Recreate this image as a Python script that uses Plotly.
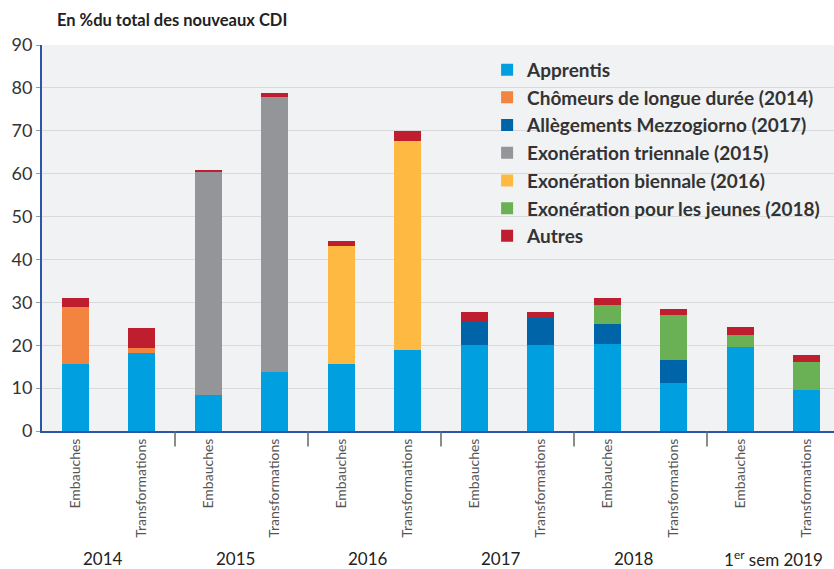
import plotly.graph_objects as go

# Categories
types = ["Embauches", "Transformations"] * 6
periods = ["2014", "2015", "2016", "2017", "2018", "1<sup>er</sup> sem 2019"]

# Series values (% of new CDI)
apprentis = [15.6, 18.1, 8.3, 13.8, 15.7, 19.0, 20.0, 20.0, 20.4, 11.1, 19.5, 9.6]
chomeurs = [13.4, 1.2, 0, 0, 0, 0, 0, 0, 0, 0, 0, 0]
mezzogiorno = [0, 0, 0, 0, 0, 0, 5.6, 6.4, 4.6, 5.4, 0, 0]
triennale = [0, 0, 52.1, 64.0, 0, 0, 0, 0, 0, 0, 0, 0]
biennale = [0, 0, 0, 0, 27.5, 48.7, 0, 0, 0, 0, 0, 0]
jeunes = [0, 0, 0, 0, 0, 0, 0, 0, 4.4, 10.45, 2.85, 6.5]
autres = [2.0, 4.7, 0.4, 1.0, 1.1, 2.3, 2.2, 1.4, 1.6, 1.55, 1.85, 1.65]

series = [
    ("Apprentis", apprentis, "#009fdf"),
    ("Chômeurs de longue durée (2014)", chomeurs, "#f28440"),
    ("Allègements Mezzogiorno (2017)", mezzogiorno, "#0064a8"),
    ("Exonération triennale (2015)", triennale, "#939598"),
    ("Exonération biennale (2016)", biennale, "#fdb942"),
    ("Exonération pour les jeunes (2018)", jeunes, "#6ab155"),
    ("Autres", autres, "#be1e2d"),
]

x = list(range(len(types)))
FONT = "Lato, 'Open Sans', sans-serif"

fig = go.Figure()
for i, (name, vals, col) in enumerate(series):
    fig.add_trace(go.Bar(
        x=x, y=vals, name=name, marker=dict(color=col, line=dict(width=0)),
        width=0.4, legendgroup=f"g{i}",
    ))

fig.update_layout(
    barmode="stack",
    width=834, height=569,
    margin=dict(l=42, r=0, t=45, b=138),
    paper_bgcolor="white",
    plot_bgcolor="#f1f2f4",
    font=dict(family=FONT, color="#333333"),
    showlegend=True,
    legend=dict(
        x=0.562, y=0.985, xanchor="left", yanchor="top",
        bgcolor="rgba(0,0,0,0)",
        font=dict(size=19, color="#333333", family=FONT, weight="bold"),
        traceorder="grouped", tracegroupgap=0, itemwidth=30,
    ),
)

fig.update_xaxes(
    range=[-0.5, 11.41],
    tickmode="array", tickvals=x, ticktext=types,
    tickangle=-90, tickfont=dict(size=14, color="#555555", family=FONT),
    showgrid=False, showline=True, linecolor="#2a55a8", linewidth=2,
    ticks="", zeroline=False,
)
fig.update_yaxes(
    range=[0, 90], dtick=10,
    tickfont=dict(size=18, color="#333333", family=FONT),
    showgrid=True, gridcolor="#d9d9d9", gridwidth=1,
    showline=True, linecolor="#2a55a8", linewidth=2,
    ticks="outside", ticklen=4, tickcolor="#999999",
    zeroline=False,
)

# Group separators and period labels
for k in range(1, 6):
    fig.add_shape(type="line", xref="x", yref="paper",
                  x0=2 * k - 0.5, x1=2 * k - 0.5, y0=0, y1=-0.04,
                  line=dict(color="#666666", width=1.5))
for k, p in enumerate(periods):
    fig.add_annotation(x=2 * k + 0.5, xref="x", y=(431 - 558) / 386, yref="paper",
                       text=p, showarrow=False, xanchor="center", yanchor="middle",
                       font=dict(size=17, color="#222222", family=FONT),
                       xshift=-6 if k < 5 else 0)

fig.add_annotation(x=(55 - 42) / 792, xref="paper", y=(431 - 20) / 386, yref="paper",
                   text="<b>En %du total des nouveaux CDI</b>", showarrow=False,
                   xanchor="left", yanchor="middle",
                   font=dict(size=16.5, color="#222222", family=FONT))

fig.write_html("out.html", config={"displayModeBar": False},
               post_script="document.body.style.margin='0';document.body.style.padding='0';")
